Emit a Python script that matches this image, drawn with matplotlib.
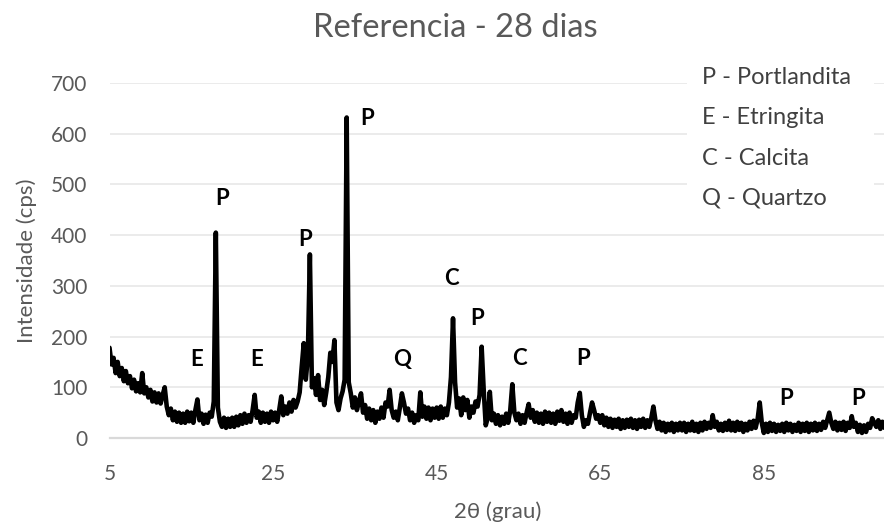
import numpy as np
import matplotlib
matplotlib.use("Agg")
import matplotlib.pyplot as plt
from matplotlib.patches import Rectangle

# Diffractogram of the reference paste at 28 days (step 0.25 deg, 5-100 deg 2theta)
two_theta = np.round(np.arange(5.0, 100.0001, 0.25), 2)
intensity = [
    # 5.00 - 9.75
    178, 145, 158, 128, 150, 122, 138, 112, 132, 108, 122, 98, 115, 92, 108, 90, 128, 88, 100, 80,
    # 10.00 - 14.75
    95, 72, 90, 70, 88, 68, 85, 100, 62, 45, 58, 35, 52, 32, 50, 30, 48, 30, 52, 33,
    # 15.00 - 19.75
    50, 30, 55, 76, 35, 48, 28, 46, 30, 50, 42, 72, 405, 60, 32, 22, 40, 20, 38, 22,
    # 20.00 - 24.75
    40, 22, 42, 25, 45, 28, 48, 30, 45, 32, 55, 85, 40, 52, 30, 50, 32, 48, 30, 52,
    # 25.00 - 29.75
    35, 50, 32, 55, 82, 45, 62, 48, 70, 52, 75, 60, 72, 90, 140, 187, 115, 160, 362, 100,
    # 30.00 - 34.75
    118, 85, 124, 75, 95, 65, 90, 120, 168, 150, 193, 70, 55, 78, 92, 115, 632, 110, 88, 60,
    # 35.00 - 39.75
    80, 55, 72, 88, 50, 65, 38, 58, 35, 55, 30, 52, 38, 60, 40, 70, 62, 95, 55, 40,
    # 40.00 - 44.75
    52, 35, 60, 88, 70, 48, 58, 35, 50, 30, 45, 35, 90, 42, 62, 38, 60, 35, 58, 40,
    # 45.00 - 49.75
    60, 38, 62, 40, 58, 45, 70, 120, 236, 110, 60, 78, 45, 80, 55, 75, 40, 62, 50, 72,
    # 50.00 - 54.75
    62, 85, 180, 95, 25, 40, 91, 35, 48, 28, 45, 25, 42, 28, 48, 30, 55, 106, 50, 35,
    # 55.00 - 59.75
    48, 28, 45, 30, 50, 67, 40, 55, 32, 50, 30, 48, 28, 52, 32, 50, 30, 48, 28, 52,
    # 60.00 - 64.75
    34, 55, 32, 48, 28, 50, 30, 45, 40, 70, 89, 45, 22, 35, 28, 50, 70, 55, 38, 45,
    # 65.00 - 69.75
    30, 45, 25, 40, 22, 38, 20, 36, 22, 38, 18, 35, 20, 36, 22, 38, 20, 35, 18, 36,
    # 70.00 - 74.75
    22, 38, 20, 35, 22, 40, 62, 35, 18, 32, 15, 30, 12, 28, 15, 30, 12, 28, 15, 30,
    # 75.00 - 79.75
    15, 30, 12, 28, 15, 32, 14, 28, 12, 30, 15, 32, 18, 30, 20, 45, 22, 32, 15, 28,
    # 80.00 - 84.75
    14, 30, 16, 34, 15, 30, 14, 32, 16, 30, 12, 28, 15, 32, 18, 34, 20, 38, 70, 30,
    # 85.00 - 89.75
    10, 28, 12, 30, 14, 28, 12, 26, 14, 28, 12, 30, 15, 28, 12, 26, 14, 30, 12, 28,
    # 90.00 - 94.75
    14, 30, 12, 28, 15, 30, 14, 28, 16, 32, 20, 35, 50, 30, 18, 32, 15, 30, 16, 32,
    # 95.00 - 100.00
    14, 30, 20, 43, 22, 30, 12, 26, 10, 25, 12, 28, 20, 39, 30, 22, 35, 18, 32, 20, 30,
]

# Phase identification labels placed above the peaks
peak_letters = ["E", "P", "E", "P", "P", "Q", "C", "P", "C", "P", "P", "P"]
peak_x = [15.66, 18.72, 23.0, 28.9, 36.52, 40.73, 46.84, 49.97, 55.1, 62.86, 87.67, 96.58]
peak_y = [158, 476, 158, 395, 633, 158, 318, 239, 160, 160, 81, 81]

phase_key = ["P - Portlandita", "E - Etringita", "C - Calcita", "Q - Quartzo"]

title = "Referencia - 28 dias"
x_label = "2θ (grau)"
y_label = "Intensidade (cps)"
x_ticks = [5, 25, 45, 65, 85]
y_ticks = [0, 100, 200, 300, 400, 500, 600, 700]

FONT = "Lato"
GREY = "#595959"
W, H = 884, 527

fig = plt.figure(figsize=(W / 100, H / 100), dpi=100)
ax = fig.add_axes([109.5 / W, (H - 438) / H, 777 / W, 355 / H])

ax.plot(two_theta, intensity, color="black", lw=3.3,
        solid_joinstyle="round", solid_capstyle="round", zorder=3)

ax.set_xlim(5, 100)
ax.set_ylim(0, 700)
ax.set_xticks(x_ticks)
ax.set_yticks(y_ticks)
ax.grid(axis="y", color="#EBEBEB", lw=1.4, zorder=0)
ax.set_axisbelow(True)
for side in ("top", "right", "left"):
    ax.spines[side].set_visible(False)
ax.spines["bottom"].set_color("#D9D9D9")
ax.spines["bottom"].set_linewidth(1.6)
ax.spines["bottom"].set_zorder(1)
ax.tick_params(axis="both", length=0, colors=GREY, labelsize=15)
ax.tick_params(axis="y", pad=16)
ax.tick_params(axis="x", pad=19)
for lbl in ax.get_xticklabels() + ax.get_yticklabels():
    lbl.set_fontfamily(FONT)

ax.set_xlabel(x_label, fontsize=16, color=GREY, family=FONT, labelpad=12)
ax.set_ylabel(y_label, fontsize=16, color=GREY, family=FONT, labelpad=10)

fig.text(455 / W, (H - 36.7) / H, title, ha="center", va="baseline",
         fontsize=23.5, color=GREY, family=FONT)

for letter, px, py in zip(peak_letters, peak_x, peak_y):
    ax.text(px, py - 15.8, letter, ha="center", va="baseline",
            fontsize=16, fontweight="bold", color="black", family=FONT, zorder=5)

# key of phases, each on a white text box
def ax_frac(px, py):
    return (px - 109.5) / 777, (438 - py) / 355

baselines = [84, 124, 165, 205]
for text, base in zip(phase_key, baselines):
    x0, y0 = ax_frac(687, base + 25)
    x1, y1 = ax_frac(874, base - 27)
    ax.add_patch(Rectangle((x0, y0), x1 - x0, y1 - y0, transform=ax.transAxes,
                           facecolor="white", edgecolor="none", zorder=2, clip_on=False))
    tx, ty = ax_frac(701.5, base)
    ax.text(tx, ty, text, transform=ax.transAxes, ha="left", va="baseline",
            fontsize=17, color="#404040", family=FONT, zorder=4, clip_on=False)

fig.savefig("out.png", dpi=100, facecolor="white")
